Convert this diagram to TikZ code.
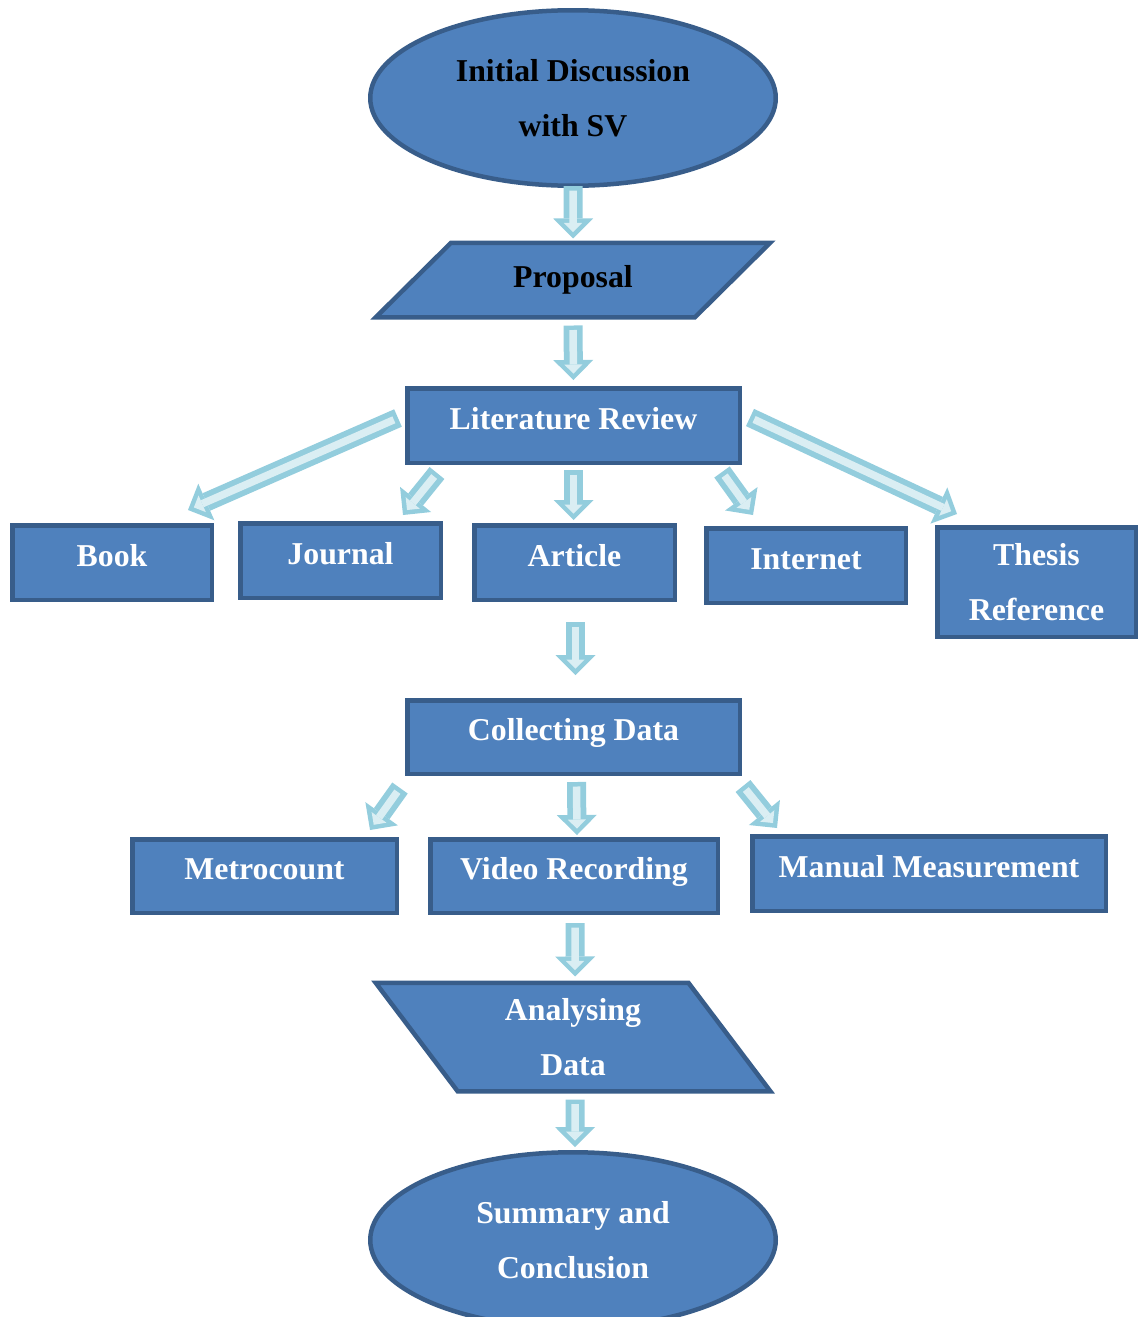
\documentclass[tikz,border=0pt]{standalone}
\usepackage{fontspec}
\setmainfont{Liberation Serif}
\usetikzlibrary{arrows.meta,shapes.geometric,calc}

\definecolor{boxfill}{HTML}{4F81BD}
\definecolor{boxline}{HTML}{385D8A}
\definecolor{arrowline}{HTML}{93CDDD}
\definecolor{arrowfill}{HTML}{DAEEF3}

\tikzset{
  stage/.style={draw=boxline, fill=boxfill, line width=4.5pt, text=white,
    font=\fontsize{31.8}{55}\selectfont\bfseries, align=center, inner sep=0pt},
  stepbox/.style={stage, rectangle, minimum height=74.5pt},
  oneline/.style={stepbox, text height=21pt, text depth=14pt},
  oval/.style={stage, ellipse, minimum width=405.5pt, minimum height=175.5pt},
  slanted/.style={stage, trapezium, trapezium stretches=true,
    minimum width=395.5pt, minimum height=74.5pt},
  flow/.style={
    preaction={draw=arrowline, line width=19pt, shorten <=0pt, shorten >=0pt,
      -{Triangle[length=20pt,width=40pt,line width=0pt]}},
    draw=arrowfill, line width=7.5pt, shorten <=4.5pt, shorten >=6.4pt,
    -{Triangle[length=9.1pt,width=18.2pt,line width=0pt]}}
}

\begin{document}
\begin{tikzpicture}[x=1pt,y=-1pt]
\useasboundingbox (0,0) rectangle (1140,1317);

% Start and proposal
\node[oval, text=black] (init) at (573,98) {Initial Discussion\\with SV};
\node[slanted, text=black, trapezium left angle=38, trapezium right angle=142] (prop) at (573,280) {Proposal};

% Literature review and its sources
\node[oneline, minimum width=332.5pt] (lit) at (573.5,425.5) {Literature Review};
\node[oneline, minimum width=199.5pt] (book) at (112,562.5) {Book};
\node[oneline, minimum width=200.5pt] (journal) at (340.5,560.5) {Journal};
\node[oneline, minimum width=200.5pt] (article) at (574.5,562.5) {Article};
\node[oneline, minimum width=199.5pt] (internet) at (806,565.5) {Internet};
\node[stepbox, minimum width=198.5pt, minimum height=109.5pt] (thesis) at (1036.5,582) {Thesis\\Reference};

% Data collection
\node[oneline, minimum width=332.5pt, minimum height=73.5pt] (collect) at (573.5,737) {Collecting Data};
\node[oneline, minimum width=264.5pt, minimum height=73.5pt] (metro) at (264.5,876) {Metrocount};
\node[oneline, minimum width=287.5pt, minimum height=73.5pt] (video) at (574,876) {Video Recording};
\node[oneline, minimum width=353.5pt] (manual) at (929,873.5) {Manual Measurement};

% Analysis and end
\node[slanted, trapezium left angle=122, trapezium right angle=58, minimum height=108.5pt] (anal) at (573,1037) {Analysing\\Data};
\node[oval] (summ) at (573,1240) {Summary and\\Conclusion};

% Block arrows
\draw[flow] ($(init.south)+(0,-2)$) -- ($(prop.north)+(0,-2)$);
\draw[flow] ($(prop.south)+(0,6)$) -- ($(lit.north)+(0,-6)$);
\draw[flow] ($(lit.west)+(-7,-7.5)$) -- ($(book.north east)+(-26,-13)$);
\draw[flow] ($(lit.south west)+(32,8)$) -- ($(journal.north east)+(-40,-6)$);
\draw[flow] ($(lit.south)+(0,5)$) -- ($(article.north)+(-1,-3)$);
\draw[flow] ($(lit.south east)+(-20,7)$) -- ($(internet.north west)+(49,-11)$);
\draw[flow] ($(lit.east)+(8,-8)$) -- ($(thesis.north west)+(22,-11)$);
\draw[flow] ($(article.south)+(1,20)$) -- ($(collect.north)+(2,-23)$);
\draw[flow] ($(collect.south west)+(-5,12)$) -- ($(metro.north east)+(-29,-7)$);
\draw[flow] ($(collect.south)+(3,6)$) -- ($(video.north)+(3,-2)$);
\draw[flow] ($(collect.south east)+(1,10)$) -- ($(manual.north west)+(27,-6)$);
\draw[flow] ($(video.south)+(1,8)$) -- ($(anal.north)+(2,-4)$);
\draw[flow] ($(anal.south)+(2,6)$) -- ($(summ.north)+(2,-3)$);
\end{tikzpicture}
\end{document}
